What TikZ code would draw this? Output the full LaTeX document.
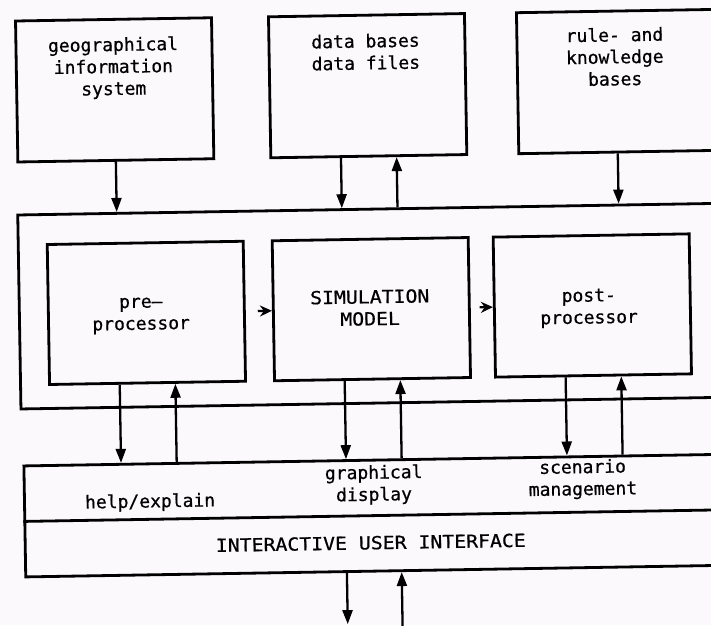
\documentclass[tikz,border=0pt]{standalone}
\usepackage{fontspec}
\usetikzlibrary{arrows.meta,calc}
\newfontfamily\lcfont{DejaVu Sans Mono}[FakeBold=0.6]
\newfontfamily\ucfont{DejaVu Sans Mono}[FakeStretch=1.1,FakeBold=0.6]
\definecolor{paper}{RGB}{252,249,252}
\begin{document}
\begin{tikzpicture}[x=1pt,y=-1pt,
  box/.style={draw, line width=2.8pt, inner sep=0pt, minimum width=196pt, minimum height=141pt, anchor=north west},
  inbox/.style={box, minimum height=140pt},
  widebox/.style={draw, line width=2.8pt, inner sep=0pt, anchor=north west},
  lbl/.style={align=center, inner sep=0pt, font=\lcfont\fontsize{18}{22}\selectfont},
  ulbl/.style={align=center, inner sep=0pt, font=\ucfont\fontsize{18}{22}\selectfont},
  arr/.style={line width=2.3pt, -{Triangle[length=14pt,width=10pt]}},
  tailarr/.style={line width=2.3pt, -{Stealth[length=12pt,width=11pt]}}]
\fill[paper] (0,0) rectangle (711,625);
\useasboundingbox (0,0) rectangle (711,625);
\clip (0,0) rectangle (711,625);
\begin{scope}[rotate around={0.95:(355.5,312.5)}, transform shape]
  % top boxes
  \node[box] (gis) at (19,14) {};
  \node[box] (db) at (272,14) {};
  \node[box, minimum width=198pt] (rule) at (520,14) {};
  % middle frame
  \node[widebox, minimum width=722pt, minimum height=194pt] (frame) at (18,208) {};
  \node[inbox] (pre) at (47,238) {};
  \node[inbox] (sim) at (272,238) {};
  \node[inbox] (post) at (493,238) {};
  % user interface
  \node[widebox, minimum width=720pt, minimum height=111pt] (ui) at (20,459) {};
  \draw[line width=2.8pt] (ui.west) -- (ui.east);
  % texts
  \node[lbl] (tgis) at (117.5,64) {geographical\\information\\system};
  \node[lbl] (tdb) at (370,52) {data bases\\data files};
  \node[lbl] (trule) at (619,61) {rule- and\\knowledge\\bases};
  \node[lbl] (tpre) at (141,312) {pre—\\processor};
  \node[ulbl] (tsim) at (370,308) {SIMULATION\\MODEL};
  \node[lbl] (tpost) at (589,312) {post-\\processor};
  \node[lbl] (thelp) at (147,499) {help/explain};
  \node[lbl] (tgd) at (371,485) {graphical\\display};
  \node[lbl] (tsm) at (580,483) {scenario\\management};
  \node[ulbl] (tiui) at (367,543) {INTERACTIVE USER INTERFACE};
  % arrows top
  \draw[arr] (gis.south) -- ($(frame.north west)!(gis.south)!(frame.north east)$);
  \coordinate (d1) at ($(db.south west)!0.36!(db.south east)$);
  \coordinate (d2) at ($(db.south west)!0.64!(db.south east)$);
  \draw[arr] (d1) -- ($(frame.north west)!(d1)!(frame.north east)$);
  \draw[arr] ($(frame.north west)!(d2)!(frame.north east)$) -- (d2);
  \draw[arr] (rule.south) -- ($(frame.north west)!(rule.south)!(frame.north east)$);
  % arrows between inner boxes
  \draw[tailarr, shorten <=12pt] (pre.east) -- (sim.west);
  \draw[tailarr, shorten <=9pt] (sim.east) -- (post.west);
  % arrows to and from the user interface
  \foreach \b in {pre,sim,post} {
    \coordinate (\b1) at ($(\b.south west)!0.36!(\b.south east)$);
    \coordinate (\b2) at ($(\b.south west)!0.64!(\b.south east)$);
    \draw[arr] (\b1) -- ($(ui.north west)!(\b1)!(ui.north east)$);
    \draw[arr] ($(ui.north west)!(\b2)!(ui.north east)$) -- (\b2);
  }
  % arrows out of the bottom
  \coordinate (o1) at (342.6,624);
  \coordinate (o2) at (397.4,650);
  \draw[arr] ($(ui.south west)!(o1)!(ui.south east)$) -- (o1);
  \draw[arr] (o2) -- ($(ui.south west)!(o2)!(ui.south east)$);
\end{scope}
\end{tikzpicture}
\end{document}
